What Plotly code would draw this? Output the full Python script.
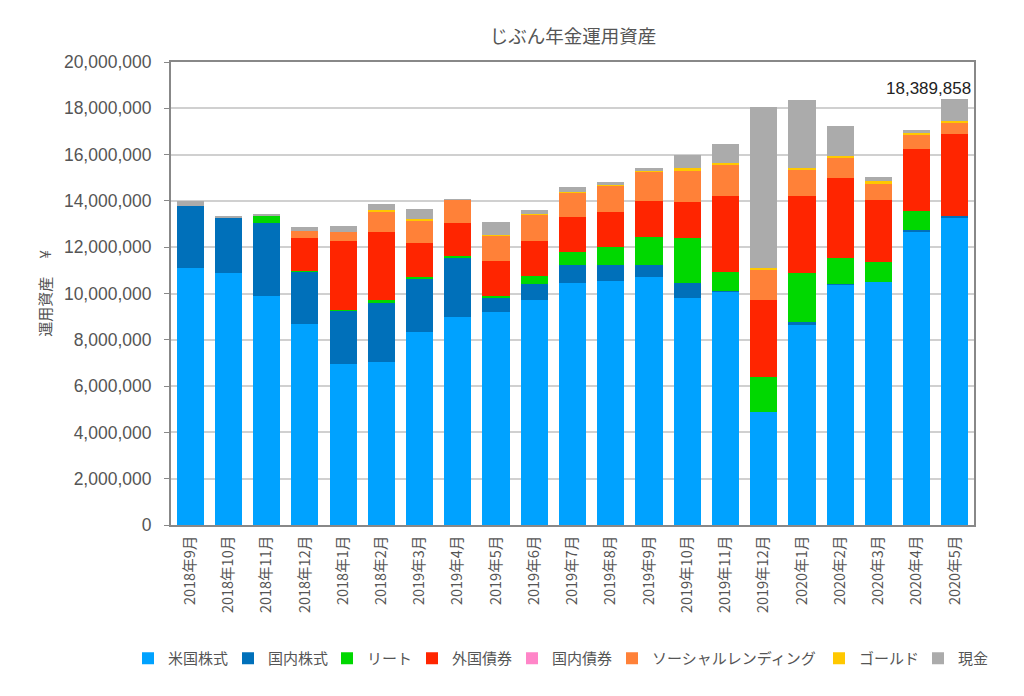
import plotly.graph_objects as go

months = ["2018年9月","2018年10月","2018年11月","2018年12月","2018年1月","2018年2月","2019年3月","2019年4月","2019年5月","2019年6月","2019年7月","2019年8月","2019年9月","2019年10月","2019年11月","2019年12月","2020年1月","2020年2月","2020年3月","2020年4月","2020年5月"]
us_stock = [11100000,10900000,9900000,8700000,6950000,7050000,8350000,9000000,9200000,9700000,10450000,10550000,10700000,9800000,10100000,4900000,8650000,10400000,10500000,12650000,13300000]
jp_stock = [2700000,2400000,3150000,2250000,2300000,2550000,2300000,2550000,600000,700000,800000,700000,550000,650000,20000,0,100000,20000,0,100000,50000]
reit = [0,0,300000,20000,30000,100000,50000,50000,100000,350000,550000,750000,1200000,1950000,800000,1500000,2150000,1100000,850000,800000,0]
foreign_bond = [0,0,0,1430000,2970000,2950000,1500000,1450000,1500000,1500000,1500000,1500000,1550000,1550000,3300000,3300000,3300000,3450000,2700000,2700000,3550000]
jp_bond = [0]*21
social = [0,0,0,320000,400000,900000,950000,1000000,1100000,1150000,1050000,1150000,1250000,1350000,1350000,1300000,1150000,900000,700000,600000,450000]
gold = [0,0,0,0,0,50000,50000,20000,20000,20000,50000,50000,50000,100000,50000,100000,50000,50000,100000,100000,100000]
cash = [200000,30000,70000,160000,280000,280000,450000,10000,560000,180000,200000,120000,100000,600000,850000,6950000,2950000,1300000,200000,100000,939858]

series = [
    ("米国株式", us_stock, "#00A2FF"),
    ("国内株式", jp_stock, "#0070BA"),
    ("リート", reit, "#00D800"),
    ("外国債券", foreign_bond, "#FF2500"),
    ("国内債券", jp_bond, "#FF85C8"),
    ("ソーシャルレンディング", social, "#FF8138"),
    ("ゴールド", gold, "#FFC800"),
    ("現金", cash, "#ABABAB"),
]
# pixel positions of each legend entry's swatch in the page
legend_px = [143, 243, 342, 427, 527, 627, 834, 933]
FONT = "Noto Sans CJK JP"
GREY = "#555555"
W, H, BODY = 1008, 680, 8
SWATCH_INSET = 15  # distance from a legend's left edge to its swatch

fig = go.Figure()
legends = {}
for i, (name, vals, col) in enumerate(series):
    key = "legend" if i == 0 else f"legend{i+1}"
    fig.add_bar(x=months, y=vals, name=name, legend=key, marker=dict(color=col, line=dict(width=0)))
    legends[key] = dict(orientation="h", xref="container", yref="container",
                        x=(legend_px[i] - SWATCH_INSET - BODY) / W, y=1 - 634 / H,
                        xanchor="left", yanchor="top", font=dict(family=FONT, size=15, color=GREY),
                        itemwidth=30, bgcolor="rgba(0,0,0,0)")

total_last = sum(s[1][-1] for s in series)
fig.add_annotation(x=months[-1], y=total_last, text=f"{total_last:,}", showarrow=False,
                   yanchor="bottom", yshift=-1, xanchor="center", xshift=-26.5,
                   font=dict(family="Liberation Sans", size=17, color="#222222"))
fig.update_layout(
    width=W, height=H, barmode="stack", bargap=0.29,
    margin=dict(l=163, r=42, t=54, b=163, autoexpand=False),
    paper_bgcolor="white", plot_bgcolor="white",
    font=dict(family=FONT, size=14, color=GREY),
    title=dict(text="じぶん年金運用資産", x=565/W, xanchor="center", y=1-29/H, yanchor="middle",
               font=dict(family=FONT, size=18.5, color=GREY)),
    showlegend=True,
    xaxis=dict(tickangle=-90, tickfont=dict(family=FONT, size=14.5, color=GREY), showline=True,
               linecolor="#888888", linewidth=2, ticks="", ticklabelstandoff=3, mirror=True,
               categoryorder="array", categoryarray=months),
    yaxis=dict(range=[0, 20000000], dtick=2000000, tickformat=",d", showgrid=True, gridcolor="#D0D0D0",
               gridwidth=1.5, showline=True, linecolor="#888888", linewidth=2, mirror=True, ticks="outside", ticklen=5,
               tickcolor="#888888", tickfont=dict(family="Liberation Sans", size=17.5, color=GREY),
               ticklabelstandoff=9,
               title=dict(text="運用資産　 ¥", standoff=9, font=dict(family=FONT, size=15, color=GREY))),
    **legends,
)
fig.write_html("out.html")
